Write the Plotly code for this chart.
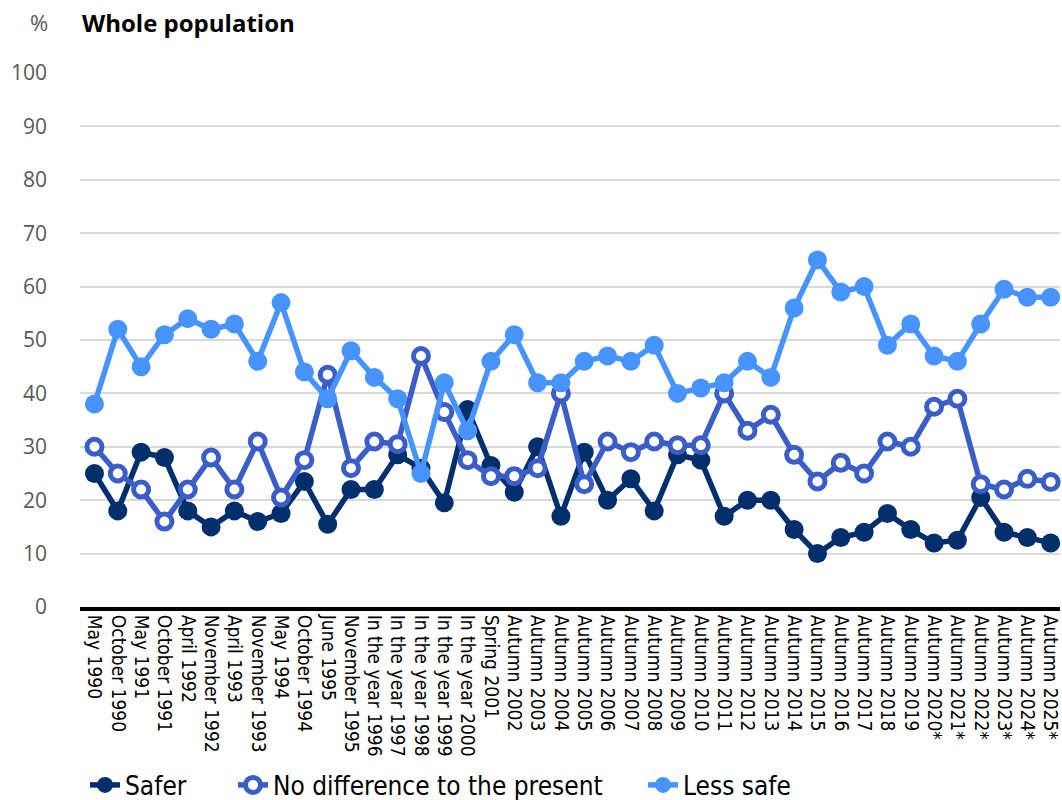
import plotly.graph_objects as go

categories = [
    "May 1990", "October 1990", "May 1991", "October 1991", "April 1992",
    "November 1992", "April 1993", "November 1993", "May 1994", "October 1994",
    "June 1995", "November 1995", "In the year 1996", "In the year 1997",
    "In the year 1998", "In the year 1999", "In the year 2000", "Spring 2001",
    "Autumn 2002", "Autumn 2003", "Autumn 2004", "Autumn 2005", "Autumn 2006",
    "Autumn 2007", "Autumn 2008", "Autumn 2009", "Autumn 2010", "Autumn 2011",
    "Autumn 2012", "Autumn 2013", "Autumn 2014", "Autumn 2015", "Autumn 2016",
    "Autumn 2017", "Autumn 2018", "Autumn 2019", "Autumn 2020*", "Autumn 2021*",
    "Autumn 2022*", "Autumn 2023*", "Autumn 2024*", "Autumn 2025*",
]

safer = [25, 18, 29, 28, 18, 15, 18, 16, 17.5, 23.5, 15.5, 22, 22, 28.5, 26,
         19.5, 37, 26.5, 21.5, 30, 17, 29, 20, 24, 18, 28.5, 27.5, 17, 20, 20,
         14.5, 10, 13, 14, 17.5, 14.5, 12, 12.5, 20.5, 14, 13, 12]

no_difference = [30, 25, 22, 16, 22, 28, 22, 31, 20.5, 27.5, 43.5, 26, 31, 30.5,
                 47, 36.5, 27.5, 24.5, 24.5, 26, 40, 23, 31, 29, 31, 30.3, 30.3,
                 40, 33, 36, 28.5, 23.5, 27, 25, 31, 30, 37.5, 39, 23, 22, 24, 23.4]

less_safe = [38, 52, 45, 51, 54, 52, 53, 46, 57, 44, 39, 48, 43, 39, 25, 42, 33,
             46, 51, 42, 42, 46, 47, 46, 49, 40, 41, 42, 46, 43, 56, 65, 59, 60,
             49, 53, 47, 46, 53, 59.5, 58, 58]

y_ticks = [0, 10, 20, 30, 40, 50, 60, 70, 80, 90, 100]

FONT = "Open Sans"
NARROW = "Liberation Sans Narrow, DejaVu Sans Condensed, Open Sans"
C_SAFER = "#002f6c"
C_NODIFF = "#3b5ec6"
C_LESS = "#4794ff"

x_idx = list(range(len(categories)))

fig = go.Figure()
fig.add_trace(go.Scatter(
    x=x_idx, y=safer, name="Safer", mode="lines+markers",
    line=dict(color=C_SAFER, width=5.5),
    marker=dict(color=C_SAFER, size=19, symbol="circle", line=dict(width=0)),
    cliponaxis=False, legend="legend",
))
fig.add_trace(go.Scatter(
    x=x_idx, y=no_difference, name="No difference to the present", mode="lines+markers",
    line=dict(color=C_NODIFF, width=5.5),
    marker=dict(color="white", size=15, symbol="circle", line=dict(color=C_NODIFF, width=5)),
    cliponaxis=False, legend="legend2",
))
fig.add_trace(go.Scatter(
    x=x_idx, y=less_safe, name="Less safe", mode="lines+markers",
    line=dict(color=C_LESS, width=5.5),
    marker=dict(color=C_LESS, size=19, symbol="circle", line=dict(width=0)),
    cliponaxis=False, legend="legend3",
))

L, R, T, B = 80, 2, 73, 193
plot_w = 1062 - L - R
plot_h = 800 - T - B


def legend_at(px):
    return dict(
        orientation="h", x=(px - L) / plot_w, xanchor="left",
        y=-(785 - 607) / plot_h, yanchor="middle",
        font=dict(family=NARROW, size=26, color="#000000"),
        bgcolor="rgba(0,0,0,0)", borderwidth=0,
    )


fig.update_layout(
    width=1062, height=800,
    margin=dict(l=L, r=R, t=T, b=B, autoexpand=False),
    plot_bgcolor="white", paper_bgcolor="white",
    font=dict(family=FONT, color="#000000"),
    showlegend=True,
    legend=legend_at(85),
    legend2=legend_at(233),
    legend3=legend_at(643),
    xaxis=dict(
        range=[-0.62, 41.4], automargin=False,
        tickmode="array", tickvals=x_idx, ticktext=categories,
        tickangle=90, tickfont=dict(family=NARROW, size=19, color="#000000"),
        ticklabeloverflow="allow",
        showgrid=False, zeroline=False,
        showline=True, linecolor="#000000", linewidth=4,
        ticks="", ticklen=0,
    ),
    yaxis=dict(
        range=[0, 100], tickmode="array", tickvals=y_ticks, automargin=False,
        tickfont=dict(family=FONT, size=21, color="#595959"),
        showgrid=True, gridcolor="#d9d9d9", gridwidth=2,
        zeroline=False, showline=False, ticks="", ticklabelstandoff=32,
    ),
    annotations=[
        dict(text="%", x=(50 - L) / plot_w, y=1 + (T - 22) / plot_h,
             xref="paper", yref="paper", xanchor="right", yanchor="middle",
             showarrow=False, font=dict(family=FONT, size=22, color="#595959")),
        dict(text="<b>Whole population</b>", x=0, y=1 + (T - 22) / plot_h,
             xref="paper", yref="paper", xanchor="left", yanchor="middle",
             showarrow=False, font=dict(family=FONT, size=24, color="#000000")),
    ],
)

fig.write_html("out.html", config={"displayModeBar": False},
               post_script="document.body.style.margin='0px';")
